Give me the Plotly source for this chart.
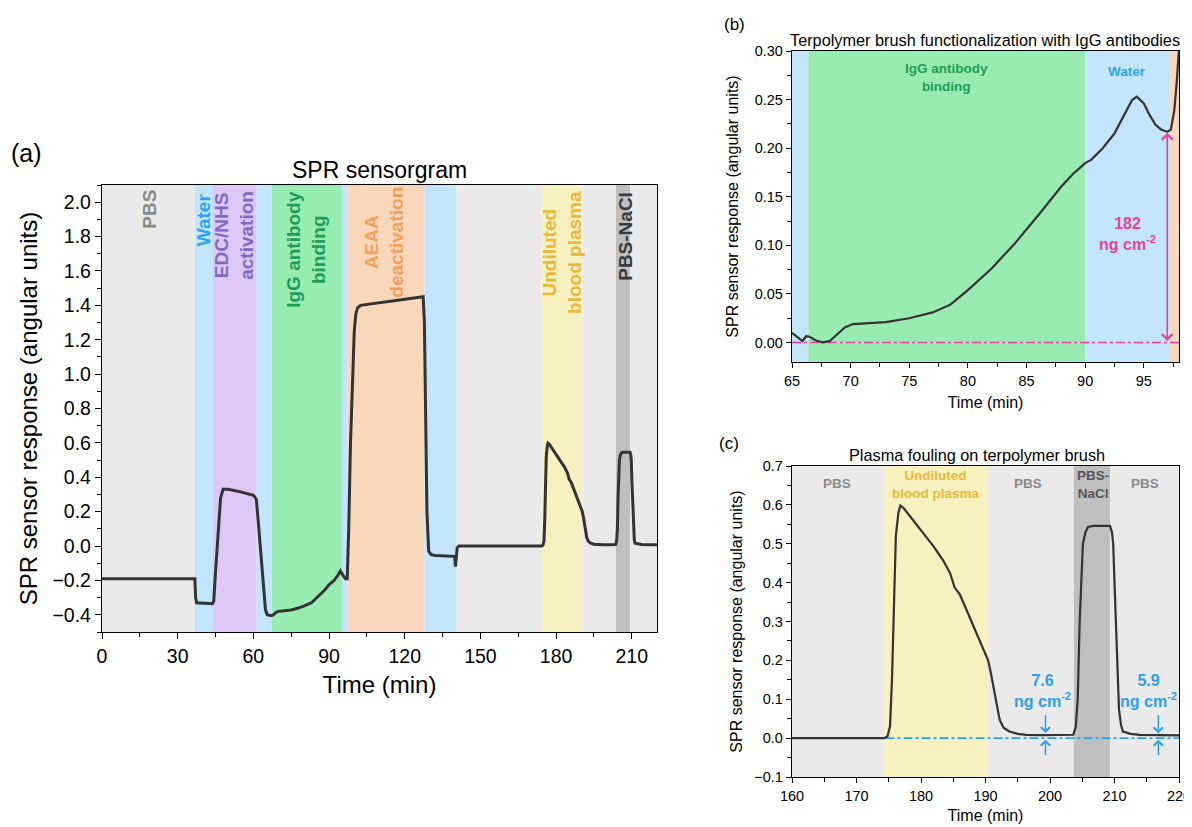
import numpy as np
import plotly.graph_objects as go

# ---------------- DATA ----------------
# Panel (a) full sensorgram (time in min, response in angular units)
time_a = [0, 36.8, 37.1, 37.5, 43.8, 44.3, 45, 46, 47, 48, 50, 55, 60, 60.6, 61.2, 62, 63, 64, 64.8,
          65.5, 67, 68, 69, 70, 72, 75, 78, 80, 83, 86, 88, 90, 92, 93.5, 94.5, 95.5, 96.5, 97.2,
          97.8, 98.5, 99.3, 100, 100.6, 101.3, 102.5, 105, 110, 115, 120, 125, 127.3, 127.8, 128.2,
          128.8, 129.5, 130.5, 132, 135, 139.8, 140.1, 140.4, 140.8, 141.5, 150, 160, 170,
          174.3, 174.8, 175.2, 175.5, 175.8, 176.1, 176.5, 176.8, 177.3, 178.2, 179.5, 180.8, 182,
          183.4, 184.5, 185.2, 186, 186.8, 187.8, 188.6, 189.5, 190.4, 190.8, 191.2, 191.7, 192.2,
          192.8, 193.7, 195, 196.3, 198.9, 201, 203.6, 204.0, 204.3, 204.6, 204.9, 205.1, 205.5,
          205.9, 206.7, 209.3, 209.6, 209.8, 210.0, 210.3, 210.5, 210.7, 211.0, 211.3, 212.5,
          213.9, 217, 220]
resp_a = [-0.19, -0.19, -0.30, -0.33, -0.335, -0.32, -0.15, 0.10, 0.28, 0.33, 0.33, 0.315, 0.295,
          0.285, 0.27, 0.13, -0.06, -0.27, -0.37, -0.40, -0.405, -0.40, -0.385, -0.38, -0.378,
          -0.372, -0.36, -0.35, -0.33, -0.29, -0.26, -0.225, -0.20, -0.17, -0.145, -0.17, -0.19,
          -0.19, 0.10, 0.60, 1.00, 1.25, 1.35, 1.385, 1.40, 1.405, 1.415, 1.425, 1.435, 1.445,
          1.45, 1.30, 0.80, 0.20, -0.03, -0.05, -0.055, -0.058, -0.06, -0.12, -0.08, -0.01, 0.0,
          0.0, 0.0, 0.0,
          0.0, 0.005, 0.03, 0.15, 0.35, 0.52, 0.58, 0.598, 0.592, 0.573, 0.547, 0.518, 0.492,
          0.458, 0.425, 0.388, 0.37, 0.34, 0.30, 0.27, 0.235, 0.20, 0.17, 0.133, 0.085, 0.047,
          0.027, 0.017, 0.011, 0.0086, 0.0077, 0.0078, 0.0086, 0.03, 0.10, 0.30, 0.45, 0.50, 0.53,
          0.543, 0.546, 0.546, 0.53, 0.50, 0.40, 0.27, 0.15, 0.073, 0.035, 0.017, 0.011,
          0.0086, 0.0075, 0.0069]

# Panel (b) zoom of antibody binding (re-baselined)
time_b = [65.0, 65.5, 65.9, 66.2, 66.5, 67.0, 67.6, 68.2, 68.8, 69.5, 70.2, 71.0, 73.0, 75.0, 77.0,
          78.5, 80.0, 82.0, 84.0, 86.0, 87.5, 88.0, 89.0, 90.0, 90.5, 91.5, 92.5, 93.5, 94.0, 94.4,
          95.0, 95.5, 96.0, 96.5, 97.0, 97.3, 97.6, 97.8, 98.0]
resp_b = [0.0099, 0.0048, 0.0014, 0.0065, 0.006, 0.0024, 0.0003, 0.0014, 0.008, 0.0156, 0.019,
          0.0197, 0.021, 0.025, 0.031, 0.039, 0.054, 0.076, 0.102, 0.131, 0.153, 0.161, 0.174,
          0.1847, 0.188, 0.200, 0.2153, 0.239, 0.2495, 0.253, 0.246, 0.234, 0.224, 0.219, 0.217,
          0.219, 0.239, 0.267, 0.302]

# Phase bands: (start, end, colour key)
bands_a_start = [0, 36.8, 44, 61.3, 67.3, 95.1, 97.3, 127.8, 140.5, 174.3, 190.4, 203.7, 209.3]
bands_a_end = [36.8, 44, 61.3, 67.3, 95.1, 97.3, 127.8, 140.5, 174.3, 190.4, 203.7, 209.3, 220]
bands_a_kind = ["pbs", "water", "edc", "water", "igg", "water", "aeaa", "water", "pbs", "plasma",
                "pbs", "nacl", "pbs"]
bands_b_start = [65, 66.4, 90.0, 97.25]
bands_b_end = [66.4, 90.0, 97.25, 98]
bands_b_kind = ["water", "igg", "water", "aeaa"]
bands_c_start = [160, 174.3, 190.4, 203.7, 209.3]
bands_c_end = [174.3, 190.4, 203.7, 209.3, 220]
bands_c_kind = ["pbs", "plasma", "pbs", "nacl", "pbs"]

# Phase labels for (a): text, x, y, colour key
labels_a_text = ["PBS", "Water", "EDC/NHS<br>activation", "IgG antibody<br>binding",
                 "AEAA<br>deactivation", "Undiluted<br>blood plasma", "PBS-NaCl"]
labels_a_x = [18.5, 40.0, 52.3, 81.0, 111.8, 182.3, 207.4]
labels_a_y = [1.96, 1.90, 1.81, 1.725, 1.765, 1.71, 1.80]
labels_a_kind = ["pbs", "water", "edc", "igg", "aeaa", "plasma", "nacl"]

labels_c_text = ["PBS", "Undiluted<br>blood plasma", "PBS", "PBS-<br>NaCl", "PBS"]
labels_c_x = [166.9, 182.4, 196.6, 206.6, 214.7]
labels_c_y = [0.655, 0.652, 0.655, 0.652, 0.655]
labels_c_kind = ["pbs", "plasma", "pbs", "nacl", "pbs"]

baseline_b = [0.0, 0.0]
baseline_b_x = [65, 98]
baseline_c = [0.0, 0.0]
baseline_c_x = [174.5, 220]

binding_mass = "182"
fouling_mass = ["7.6", "5.9"]
fouling_x = [199.3, 216.8]
fouling_text_x = [198.9, 215.3]
fouling_level = [0.009, 0.008]

# ---------------- STYLE ----------------
band_col = {"pbs": "#eaeaea", "water": "#c2e5fb", "edc": "#dfc7f7", "igg": "#99ecb1",
            "aeaa": "#f9d7ba", "plasma": "#f7f1bf", "nacl": "#bfbfbf"}
text_col = {"pbs": "#8a8a8a", "water": "#2ea3f2", "edc": "#7d6cc4", "igg": "#1d9d5a",
            "aeaa": "#f2a05c", "plasma": "#eab83a", "nacl": "#3a3a3a"}
PINK = "#ea3f9c"
BLUE = "#2a9ff0"
LINE = "#333333"
FONT = "Arial, Liberation Sans, sans-serif"

# page body has an 8 px margin: the figure is drawn 8 px in from the window edge
OFF = 8
W, H = 1192 - OFF, 827 - OFF
def px_x(p):
    return (p - OFF) / W
def px_y(p):
    return 1 - (p - OFF) / H

fig = go.Figure()

ta = np.array(time_a)
ra = np.array(resp_a)
fig.add_trace(go.Scatter(x=ta, y=ra, mode="lines", line=dict(color=LINE, width=3),
                         xaxis="x", yaxis="y", showlegend=False, hoverinfo="skip"))
fig.add_trace(go.Scatter(x=baseline_b_x, y=baseline_b, mode="lines",
                         line=dict(color=PINK, width=1.6, dash="dashdot"),
                         xaxis="x2", yaxis="y2", showlegend=False))
fig.add_trace(go.Scatter(x=time_b, y=resp_b, mode="lines", line=dict(color=LINE, width=2.2),
                         xaxis="x2", yaxis="y2", showlegend=False))
mask = ta >= 160
fig.add_trace(go.Scatter(x=baseline_c_x, y=baseline_c, mode="lines",
                         line=dict(color=BLUE, width=1.6, dash="dashdot"),
                         xaxis="x3", yaxis="y3", showlegend=False))
fig.add_trace(go.Scatter(x=ta[mask], y=ra[mask], mode="lines", line=dict(color=LINE, width=2.2),
                         xaxis="x3", yaxis="y3", showlegend=False))

shapes = []
for starts, ends, kinds, xr, yr in [(bands_a_start, bands_a_end, bands_a_kind, "x", "y"),
                                    (bands_b_start, bands_b_end, bands_b_kind, "x2", "y2"),
                                    (bands_c_start, bands_c_end, bands_c_kind, "x3", "y3")]:
    for s, e, k in zip(starts, ends, kinds):
        shapes.append(dict(type="rect", xref=xr, yref=yr + " domain", x0=s, x1=e, y0=0, y1=1,
                           fillcolor=band_col[k], line=dict(width=0), layer="below"))

ann = []
for t, x, y, k in zip(labels_a_text, labels_a_x, labels_a_y, labels_a_kind):
    ann.append(dict(text="<b>" + t + "</b>", x=x, y=y, xref="x", yref="y", showarrow=False,
                    textangle=-90, xanchor="center", yanchor="middle",
                    font=dict(family=FONT, size=19, color=text_col[k]), align="center"))
for t, x, y, k in zip(labels_c_text, labels_c_x, labels_c_y, labels_c_kind):
    ann.append(dict(text="<b>" + t + "</b>", x=x, y=y, xref="x3", yref="y3", showarrow=False,
                    xanchor="center", yanchor="middle",
                    font=dict(family=FONT, size=13.5,
                              color=("#555555" if k == "nacl" else text_col[k])),
                    align="center"))
# (b) labels
ann.append(dict(text="<b>IgG antibody<br>binding</b>", x=78.2, y=0.273, xref="x2", yref="y2",
                showarrow=False, xanchor="center", yanchor="middle",
                font=dict(family=FONT, size=13.5, color=text_col["igg"])))
ann.append(dict(text="<b>Water</b>", x=93.6, y=0.2785, xref="x2", yref="y2", showarrow=False,
                xanchor="center", yanchor="middle",
                font=dict(family=FONT, size=13.5, color=text_col["water"])))
ann.append(dict(text="<b>" + binding_mass + "<br>ng cm<sup>-2</sup></b>", x=93.6, y=0.112,
                xref="x2", yref="y2", showarrow=False, xanchor="center", yanchor="middle",
                font=dict(family=FONT, size=16, color=PINK)))
ann.append(dict(x=97.0, y=0.216, ax=97.0, ay=0.0, xref="x2", yref="y2", axref="x2", ayref="y2",
                showarrow=True, arrowhead=4, startarrowhead=4, arrowside="end+start",
                arrowsize=1.3, startarrowsize=1.3, arrowwidth=1.6, arrowcolor=PINK, text=""))
# (c) fouling annotations
for m, fx, tx, fl in zip(fouling_mass, fouling_x, fouling_text_x, fouling_level):
    ann.append(dict(text="<b>" + m + "<br>ng cm<sup>-2</sup></b>", x=tx, y=0.122,
                    xref="x3", yref="y3", showarrow=False, xanchor="center", yanchor="middle",
                    font=dict(family=FONT, size=16, color=BLUE)))
    ann.append(dict(x=fx, y=fl + 0.004, ax=fx, ay=0.063, xref="x3", yref="y3", axref="x3",
                    ayref="y3", showarrow=True, arrowhead=4, arrowsize=1.2, arrowwidth=1.5,
                    arrowcolor=BLUE, text=""))
    ann.append(dict(x=fx, y=-0.004, ax=fx, ay=-0.048, xref="x3", yref="y3", axref="x3",
                    ayref="y3", showarrow=True, arrowhead=4, arrowsize=1.2, arrowwidth=1.5,
                    arrowcolor=BLUE, text=""))

# titles and panel letters
def paper_text(text, x, y, size):
    return dict(text=text, x=px_x(x), y=px_y(y), xref="paper", yref="paper", showarrow=False,
                xanchor="center", yanchor="middle",
                font=dict(family=FONT, size=size, color="black"))

ann.append(paper_text("SPR sensorgram", 379, 170, 23))
ann.append(paper_text("Terpolymer brush functionalization with IgG antibodies", 985, 40, 16.3))
ann.append(paper_text("Plasma fouling on terpolymer brush", 977, 455, 16.3))
ann.append(paper_text("(a)", 26, 153, 25))
ann.append(paper_text("(b)", 734, 24, 17))
ann.append(paper_text("(c)", 729, 443, 17))

def axis(domain, rng, dtick, minor, size, title, anchor, tick0, fmt=None, tlsize=None, standoff=8):
    d = dict(domain=domain, range=rng, dtick=dtick, tick0=tick0, automargin=False,
             ticks="outside", ticklen=6 if size > 16 else 5, tickwidth=1.3, tickcolor="black",
             showline=True, linecolor="black", linewidth=1.3, mirror=True, showgrid=False,
             zeroline=False, anchor=anchor,
             tickfont=dict(family=FONT, size=size, color="black"),
             minor=dict(dtick=minor, ticks="outside", ticklen=4 if size > 16 else 3.5,
                        tickwidth=1.2, tickcolor="black", showgrid=False),
             title=dict(text=title, standoff=standoff,
                        font=dict(family=FONT, size=tlsize or size + 2, color="black")))
    if fmt:
        d["tickformat"] = fmt
    return d

layout = dict(width=W, height=H, margin=dict(l=0, r=0, t=0, b=0, autoexpand=False),
              paper_bgcolor="white", plot_bgcolor="white", showlegend=False,
              shapes=shapes, annotations=ann)
layout["xaxis"] = axis([px_x(102), px_x(657)], [0, 220], 30, 15, 19.5, "Time (min)", "y", 0,
                       tlsize=24, standoff=10)
layout["yaxis"] = axis([px_y(632), px_y(185)], [-0.5, 2.1], 0.2, 0.1, 19.5,
                       "SPR sensor response (angular units)", "x", 0, fmt=".1f", tlsize=24,
                       standoff=8)
layout["xaxis2"] = axis([px_x(792), px_x(1179)], [65, 98], 5, 2.5, 14.5, "Time (min)", "y2", 65,
                        tlsize=16, standoff=9)
layout["yaxis2"] = axis([px_y(362), px_y(51)], [-0.02, 0.30], 0.05, 0.025, 14.5,
                        "SPR sensor response (angular units)", "x2", 0, fmt=".2f", tlsize=16,
                        standoff=12)
layout["xaxis3"] = axis([px_x(792), px_x(1179)], [160, 220], 10, 5, 14.5, "Time (min)", "y3", 160,
                        tlsize=16, standoff=7)
layout["yaxis3"] = axis([px_y(777), px_y(466)], [-0.1, 0.7], 0.1, 0.05, 14.5,
                        "SPR sensor response (angular units)", "x3", 0, fmt=".1f", tlsize=16,
                        standoff=7)
fig.update_layout(**layout)

fig.write_html("out.html")
